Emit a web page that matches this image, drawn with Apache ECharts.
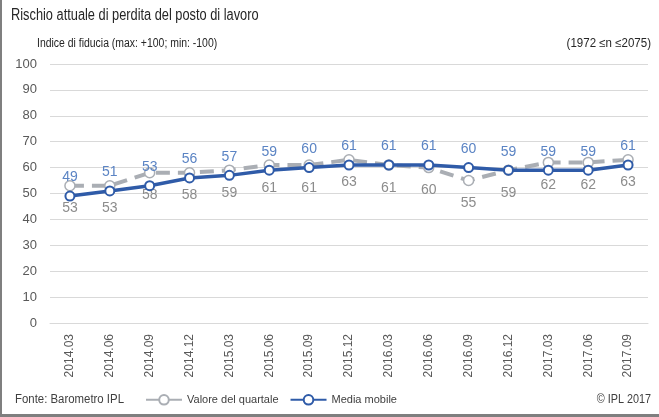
<!DOCTYPE html>
<html>
<head>
<meta charset="utf-8">
<script src="https://cdn.jsdelivr.net/npm/echarts@6/dist/echarts.min.js"></script>
<style>
  html, body { margin: 0; padding: 0; background: #fff; }
  #chart { width: 659px; height: 417px; }
</style>
</head>
<body>
<div id="chart"></div>
<script>
// quarters and the two series
const quarters = ['2014.03', '2014.06', '2014.09', '2014.12', '2015.03', '2015.06', '2015.09', '2015.12',
                  '2016.03', '2016.06', '2016.09', '2016.12', '2017.03', '2017.06', '2017.09'];
const valoreQuartale = [53, 53, 58, 58, 59, 61, 61, 63, 61, 60, 55, 59, 62, 62, 63];
const mediaMobile = [49, 51, 53, 56, 57, 59, 60, 61, 61, 61, 60, 59, 59, 59, 61];
const yTicks = { min: 0, max: 100, interval: 10 };

const FONT = "'Liberation Sans', Arial, sans-serif";
const BLUE = '#2f5ba8';
const GREY = '#aaaeb4';

// texts are drawn slightly condensed, the original uses a narrow face
function label(text, x, y, size, color, opts) {
    opts = opts || {};
    return {
        type: 'text', x: x, y: y, scaleX: opts.scaleX || 1,
        style: { text: text, fontSize: size, fontFamily: FONT, fill: color,
                 align: opts.align || 'left', verticalAlign: 'top' }
    };
}

let chart = echarts.init(document.getElementById('chart'));

let option = {
    animation: false,
    textStyle: { fontFamily: FONT },
    graphic: [
        { type: 'rect', left: 0, top: 0, shape: { width: 2, height: 417 }, style: { fill: '#7f7f7f' } },
        { type: 'rect', left: 0, top: 414, shape: { width: 659, height: 3 }, style: { fill: '#7f7f7f' } },
        label('Rischio attuale di perdita del posto di lavoro', 11, 8, 16, '#262626', { scaleX: 0.8 }),
        label('Indice di fiducia (max: +100; min: -100)', 37, 38, 12, '#262626', { scaleX: 0.87 }),
        label('(1972 ≤n ≤2075)', 651, 38, 12, '#262626', { scaleX: 0.96, align: 'right' }),
        label('Fonte: Barometro IPL', 15, 394, 12, '#404040', { scaleX: 0.95 }),
        label('© IPL 2017', 651, 394, 12, '#404040', { scaleX: 0.9, align: 'right' })
    ],
    legend: {
        left: 140, top: 389,
        itemWidth: 36, itemHeight: 12, itemGap: 11,
        textStyle: { fontSize: 11, color: '#404040', fontFamily: FONT },
        data: ['Valore del quartale', 'Media mobile']
    },
    grid: { left: 50, right: 11, top: 64, bottom: 94 },
    xAxis: {
        type: 'category',
        data: quarters,
        boundaryGap: true,
        axisLine: { lineStyle: { color: '#d9d9d9', width: 1 } },
        axisTick: { alignWithLabel: true, length: 5, lineStyle: { color: '#d9d9d9' } },
        axisLabel: { rotate: 90, fontSize: 12, color: '#595959', margin: 11, fontFamily: FONT }
    },
    yAxis: {
        type: 'value',
        min: yTicks.min, max: yTicks.max, interval: yTicks.interval,
        axisLine: { show: false },
        axisTick: { show: false },
        splitLine: { lineStyle: { color: '#d9d9d9', width: 1 } },
        axisLabel: { fontSize: 13, color: '#595959', margin: 13, fontFamily: FONT }
    },
    series: [
        {
            name: 'Valore del quartale',
            type: 'line',
            data: valoreQuartale,
            z: 2,
            symbol: 'circle',
            symbolSize: 10,
            lineStyle: { color: GREY, width: 4, type: [14, 8] },
            itemStyle: { color: '#fff', borderColor: GREY, borderWidth: 1.5 },
            label: { show: true, position: 'bottom', distance: 10, fontSize: 14, color: '#8c8c8c', fontFamily: FONT }
        },
        {
            name: 'Media mobile',
            type: 'line',
            data: mediaMobile,
            z: 3,
            symbol: 'circle',
            symbolSize: 9,
            lineStyle: { color: BLUE, width: 3.5 },
            itemStyle: { color: '#fff', borderColor: BLUE, borderWidth: 2 },
            label: { show: true, position: 'top', distance: 6, fontSize: 14, color: '#5b84c4', fontFamily: FONT }
        }
    ]
};

chart.setOption(option);
</script>
</body>
</html>
